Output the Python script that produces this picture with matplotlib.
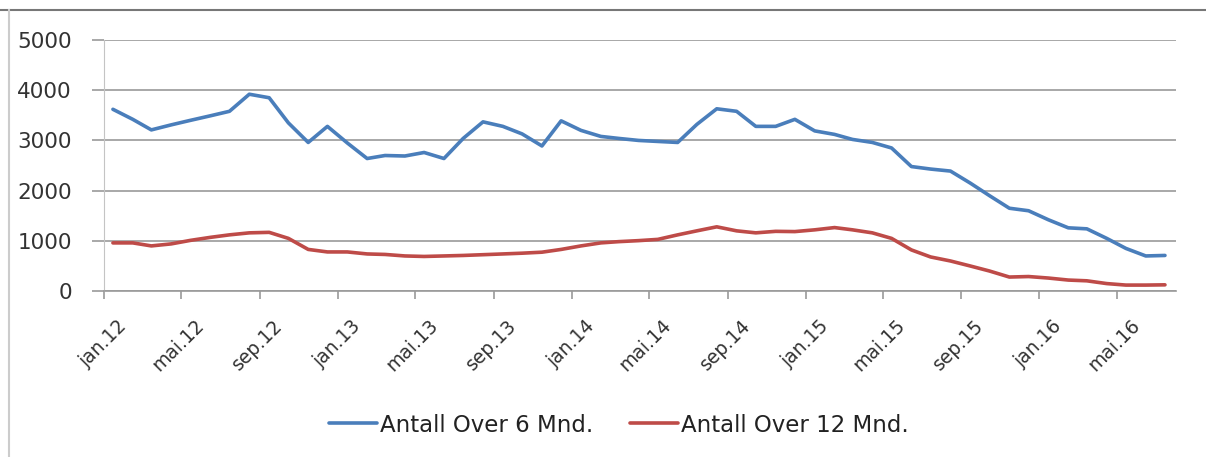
import numpy as np
import pandas as pd
import matplotlib
matplotlib.use("Agg")
import matplotlib.pyplot as plt
import matplotlib.dates as mdates
import matplotlib.transforms as mtransforms
from matplotlib.lines import Line2D

# månedlige tall, midt i måneden, jan 2012 - jul 2016
datoer = pd.date_range("2012-01-01", periods=55, freq="MS") + pd.Timedelta(days=14)

over_6 = [3620, 3420, 3210, 3310, 3400, 3490, 3580, 3920, 3850, 3350,
          2960, 3280, 2950, 2640, 2700, 2690, 2760, 2640, 3040, 3370,
          3280, 3130, 2890, 3390, 3200, 3080, 3040, 3000, 2980, 2960,
          3320, 3630, 3580, 3280, 3280, 3420, 3190, 3120, 3020, 2960,
          2850, 2480, 2430, 2390, 2150, 1900, 1650, 1600, 1420, 1260,
          1240, 1050, 850, 700, 710]

over_12 = [960, 960, 900, 940, 1010, 1070, 1120, 1160, 1170, 1050,
           830, 780, 780, 740, 730, 700, 690, 700, 710, 725,
           740, 755, 775, 830, 900, 960, 985, 1005, 1030, 1120,
           1200, 1280, 1200, 1160, 1190, 1185, 1220, 1265, 1220, 1160,
           1050, 820, 680, 600, 500, 400, 280, 290, 260, 220,
           205, 150, 120, 120, 125]

navn = ["Antall Over 6 Mnd.", "Antall Over 12 Mnd."]
farger = ["#4A7EBB", "#BE4B48"]

mnd = {1: "jan", 5: "mai", 9: "sep"}

plt.rcParams["font.family"] = "DejaVu Sans"
fig = plt.figure(figsize=(12.06, 4.57), dpi=100)
ax = fig.add_axes([0.0862, 0.363, 0.975 - 0.0862, 0.9125 - 0.363])

ax.plot(datoer, over_6, color=farger[0], lw=2.6, label=navn[0], solid_capstyle="round")
ax.plot(datoer, over_12, color=farger[1], lw=2.6, label=navn[1], solid_capstyle="round")

ax.set_ylim(0, 5000)
ax.set_yticks(np.arange(0, 5001, 1000))
ax.set_xlim(pd.Timestamp("2012-01-01"), pd.Timestamp("2016-08-01"))

ax.xaxis.set_major_locator(mdates.MonthLocator(bymonth=[1, 5, 9]))
ax.xaxis.set_major_formatter(
    plt.FuncFormatter(lambda x, p: "%s.%s" % (mnd[mdates.num2date(x).month],
                                             mdates.num2date(x).strftime("%y"))))

ax.grid(axis="y", color="#9a9a9a", lw=1.2)
ax.set_axisbelow(True)
for s in ["top", "right"]:
    ax.spines[s].set_visible(False)
ax.spines["left"].set_color("#c4c4c4")
ax.spines["bottom"].set_color("#9a9a9a")
ax.spines["bottom"].set_linewidth(1.2)

ax.tick_params(axis="y", length=9, color="#9a9a9a", width=1.2, labelsize=15.5,
               labelcolor="#333333", pad=14)
ax.tick_params(axis="x", length=6, color="#9a9a9a", width=1.2, labelsize=13.5,
               labelcolor="#333333", pad=4)

# skrå etiketter, forskjøvet litt til høyre og ned
flytt = mtransforms.ScaledTranslation(13 / 100, -11 / 100, fig.dpi_scale_trans)
for lab in ax.get_xticklabels():
    lab.set_rotation(45)
    lab.set_ha("right")
    lab.set_va("top")
    lab.set_rotation_mode("anchor")
    lab.set_transform(lab.get_transform() + flytt)

fig.legend(loc="center", bbox_to_anchor=(0.513, 0.07), ncol=2, frameon=False,
           fontsize=16.5, handlelength=2.1, handletextpad=0.12, columnspacing=1.6,
           labelcolor="#222222")

# ramme rundt diagramområdet
fig.add_artist(Line2D([0.0, 1.0], [1 - 9.5 / 457, 1 - 9.5 / 457], color="#777777", lw=1.5))
fig.add_artist(Line2D([8.5 / 1206, 8.5 / 1206], [0.0, 1 - 9.5 / 457], color="#cccccc", lw=1.5))

fig.savefig("out.png", dpi=100)
